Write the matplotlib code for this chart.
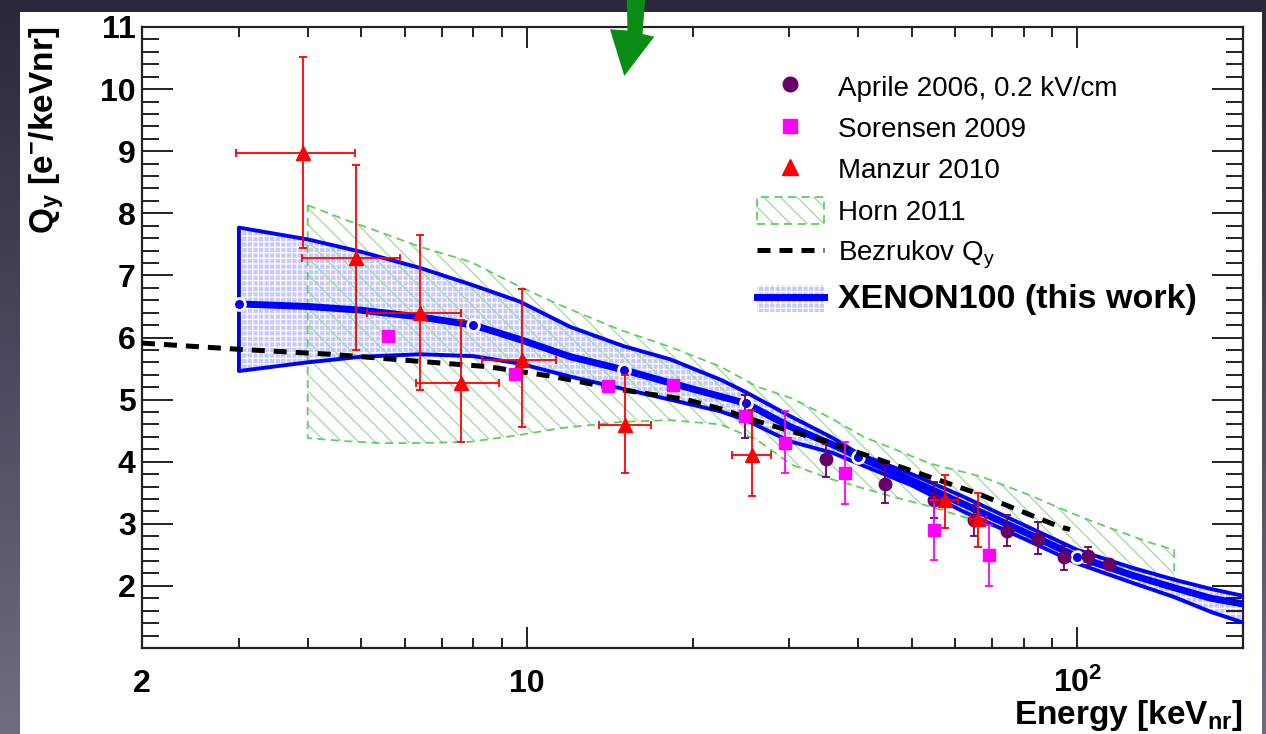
import numpy as np
import matplotlib
matplotlib.use("Agg")
import matplotlib.pyplot as plt
from matplotlib.lines import Line2D
from matplotlib.patches import Patch, Polygon, Rectangle
from matplotlib.colors import LinearSegmentedColormap
from matplotlib.ticker import NullFormatter

plt.rcParams['font.family'] = ['Liberation Sans', 'DejaVu Sans']
plt.rcParams['mathtext.default'] = 'regular'
plt.rcParams['hatch.linewidth'] = 0.9

# =========================
# data
# =========================
# XENON100 band (this work)
xenon_e = [3, 4, 5, 6.4, 8, 9.7, 12, 15, 18.2, 22.5, 25, 30, 36, 40, 50, 62, 80, 100, 125, 150, 175, 200]
xenon_hi = [7.77, 7.58, 7.38, 7.12, 6.84, 6.58, 6.17, 5.86, 5.65, 5.32, 5.12, 4.74, 4.38, 4.13, 3.80, 3.44, 2.98, 2.58, 2.30, 2.10, 1.95, 1.84]
xenon_med = [6.54, 6.50, 6.44, 6.33, 6.20, 5.97, 5.69, 5.48, 5.27, 5.05, 4.94, 4.57, 4.27, 4.08, 3.70, 3.32, 2.87, 2.47, 2.18, 1.97, 1.80, 1.71]
xenon_lo = [5.46, 5.60, 5.69, 5.73, 5.70, 5.58, 5.37, 5.17, 5.00, 4.81, 4.67, 4.33, 4.14, 3.97, 3.62, 3.20, 2.76, 2.36, 2.06, 1.82, 1.58, 1.41]
xenon_pts_e = [3, 8, 15, 25, 40, 100]
xenon_pts_q = [6.54, 6.20, 5.48, 4.94, 4.08, 2.47]

# Horn 2011 band
horn_e = [4, 4.7, 5.4, 6.4, 7.9, 9.7, 11.5, 14.8, 18.2, 22.5, 26.2, 30.3, 35.7, 40.9, 46.9, 54, 67, 82, 96, 107, 120, 134, 150]
horn_hi = [8.13, 7.89, 7.70, 7.46, 7.22, 6.82, 6.52, 6.12, 5.85, 5.53, 5.21, 5.02, 4.70, 4.40, 4.19, 3.97, 3.76, 3.46, 3.20, 3.03, 2.87, 2.71, 2.58]
horn_lo = [4.38, 4.33, 4.30, 4.30, 4.32, 4.43, 4.54, 4.64, 4.67, 4.60, 4.35, 3.95, 3.72, 3.57, 3.42, 3.28, 3.02, 2.75, 2.55, 2.42, 2.30, 2.20, 2.12]

# Bezrukov Qy
bez_e = [2.0, 3.0, 4.4, 6.3, 8.5, 11.2, 14.8, 19.5, 22.5, 26.5, 35.1, 42.1, 54.5, 65.8, 76.7, 93.0, 97.0]
bez_q = [5.91, 5.81, 5.73, 5.62, 5.53, 5.37, 5.16, 5.00, 4.85, 4.64, 4.32, 4.08, 3.74, 3.49, 3.25, 2.95, 2.91]

# Aprile 2006, 0.2 kV/cm
aprile_e = [24.9, 35.0, 44.8, 54.9, 65.0, 74.6, 84.7, 94.6, 104.5, 114.0]
aprile_q = [4.73, 4.04, 3.64, 3.38, 3.06, 2.89, 2.76, 2.46, 2.48, 2.35]
aprile_lo = [4.38, 3.76, 3.34, 3.09, 2.80, 2.64, 2.51, 2.25, 2.34, 2.31]
aprile_hi = [5.07, 4.29, 3.95, 3.68, 3.30, 3.14, 3.03, 2.64, 2.62, 2.39]

# Sorensen 2009 (nan = no bar)
sor_e = [5.6, 9.52, 14.07, 18.4, 24.9, 29.4, 37.8, 54.9, 69.1]
sor_q = [6.02, 5.42, 5.22, 5.24, 4.73, 4.30, 3.82, 2.90, 2.50]
sor_lo = [np.nan, np.nan, np.nan, np.nan, np.nan, 3.81, 3.32, 2.41, 2.00]
sor_hi = [np.nan, np.nan, np.nan, np.nan, np.nan, 4.81, 4.32, 3.38, 2.98]

# Manzur 2010
man_e = [3.93, 4.89, 6.4, 7.6, 9.8, 15.1, 25.6, 57.6, 66.1]
man_q = [8.97, 7.28, 6.39, 5.26, 5.64, 4.59, 4.11, 3.38, 3.08]
man_lo = [7.44, 5.80, 5.16, 4.32, 4.56, 3.81, 3.44, 2.94, 2.62]
man_hi = [10.52, 8.78, 7.65, 6.28, 6.78, 5.40, 4.83, 3.79, 3.49]
man_elo = [2.96, 3.91, 5.13, 6.29, 8.28, 13.5, 23.6, 55.0, 63.8]
man_ehi = [4.88, 5.88, 7.6, 8.9, 11.3, 16.8, 27.8, 60.6, 68.4]

x_ticks = [2, 10, 100]
x_ticklabels = ['2', '10', '$10^{2}$']

# =========================
# figure / slide background
# =========================
W, H = 1266, 734
fig = plt.figure(figsize=(W / 100, H / 100), dpi=100)

bg = fig.add_axes([0, 0, 1, 1], zorder=-10)
slide = LinearSegmentedColormap.from_list('slide', ['#29293a', '#4a4a5e', '#6e6e80'])
bg.imshow(np.linspace(0, 1, 256)[:, None], aspect='auto', cmap=slide,
          extent=[0, 1, 0, 1], origin='upper')
bg.axis('off')

fig.add_artist(Rectangle((20 / W, 0), (1262 - 20) / W, 1 - 12 / H,
                         transform=fig.transFigure, facecolor='white',
                         edgecolor='none', zorder=-5))

ax = fig.add_axes([142 / W, 1 - 648 / H, (1243 - 142) / W, (648 - 27) / H])
ax.set_facecolor('white')

BLUE = '#0000ff'
PURPLE = '#660066'
MAGENTA = '#ff00ff'
RED = '#ff0000'
BEZ_DASH = (2.6, 1.8)

# XENON100 band
ax.fill_between(xenon_e, xenon_lo, xenon_hi, facecolor='#c8c8fc', edgecolor='white',
                hatch='+++', lw=0, zorder=1)

# Horn 2011 hatched band with dashed outline
ax.fill_between(horn_e, horn_lo, horn_hi, facecolor='none', edgecolor='#9ddc9d',
                hatch='\\\\', lw=0, zorder=1.5)
ax.plot(np.r_[horn_e, horn_e[::-1], horn_e[:1]],
        np.r_[horn_hi, horn_lo[::-1], horn_hi[:1]],
        color='#5fcf5f', lw=1.3, dashes=(4.5, 3), zorder=1.6)

# XENON100 outline + median
ax.plot(np.r_[xenon_e[::-1], xenon_e], np.r_[xenon_hi[::-1], xenon_lo],
        color=BLUE, lw=2.8, zorder=3)
ax.plot(xenon_e, xenon_med, color=BLUE, lw=5, solid_capstyle='butt', zorder=3.2)
ax.plot(xenon_pts_e, xenon_pts_q, 'o', ms=8.5, mfc=BLUE, mec='white', mew=2, zorder=3.4)

# Bezrukov
ax.plot(bez_e, bez_q, color='black', lw=3.6, dashes=BEZ_DASH, zorder=4)

# Aprile 2006
ap_q = np.array(aprile_q)
ax.errorbar(aprile_e, ap_q, yerr=[ap_q - np.array(aprile_lo), np.array(aprile_hi) - ap_q],
            fmt='none', ecolor=PURPLE, elinewidth=1.3, capsize=3, capthick=1.3, zorder=5)
ax.plot(aprile_e, ap_q, 'o', color=PURPLE, ms=9, zorder=5.5)

# Sorensen 2009
s_e = np.array(sor_e)
s_q = np.array(sor_q)
s_lo = np.array(sor_lo)
s_hi = np.array(sor_hi)
has_err = ~np.isnan(s_lo)
ax.errorbar(s_e[has_err], s_q[has_err],
            yerr=[s_q[has_err] - s_lo[has_err], s_hi[has_err] - s_q[has_err]],
            fmt='none', ecolor=MAGENTA, elinewidth=1.3, capsize=3, capthick=1.3, zorder=6)
ax.plot(s_e, s_q, 's', color=MAGENTA, ms=8.5, zorder=6.5)

# Manzur 2010
m_e = np.array(man_e)
m_q = np.array(man_q)
ax.errorbar(m_e, m_q,
            xerr=[m_e - np.array(man_elo), np.array(man_ehi) - m_e],
            yerr=[m_q - np.array(man_lo), np.array(man_hi) - m_q],
            fmt='none', ecolor=RED, elinewidth=1.3, capsize=3, capthick=1.3, zorder=7)
ax.plot(m_e, m_q, '^', color=RED, ms=10, zorder=7.5)

# =========================
# axes
# =========================
ax.set_xscale('log')
ax.set_xlim(2, 200)
ax.set_ylim(1, 11)

ax.set_xticks(x_ticks)
ax.set_xticks([3, 4, 5, 6, 7, 8, 9, 20, 30, 40, 50, 60, 70, 80, 90], minor=True)
ax.xaxis.set_minor_formatter(NullFormatter())
ax.set_yticks(range(2, 12))
ax.set_yticks([i + 0.2 * k for i in range(1, 11) for k in (1, 2, 3, 4)], minor=True)

for s in ax.spines.values():
    s.set_linewidth(1.6)
    s.set_color('#222222')

ax.tick_params(which='both', direction='in', top=True, right=True,
               color='#222222', width=1.4)
ax.tick_params(axis='y', which='major', length=22, pad=4.5, labelsize=23)
ax.tick_params(axis='y', which='minor', length=12.5)
ax.tick_params(axis='x', which='major', length=15, pad=31.5, labelsize=23)
ax.tick_params(axis='x', which='minor', length=7.5)

ax.set_xticklabels(x_ticklabels, fontweight='bold')
ax.set_yticklabels([str(v) for v in range(2, 12)], fontweight='bold')
for lbl in ax.get_xticklabels():
    lbl.set_va('baseline')

ax.text(-0.0863, 1.0, 'Q$_{y}$ [e$^{-}$/keVnr]', rotation=90, ha='center', va='top',
        fontsize=24, fontweight='bold', transform=ax.transAxes)
ax.text(1.0, -(724 - 648) / 621, 'Energy [keV$_{nr}$]', ha='right', va='baseline',
        fontsize=24, fontweight='bold', transform=ax.transAxes, clip_on=False)

# =========================
# legend
# =========================
handles = [
    Line2D([], [], ls='none', marker='o', color=PURPLE, ms=10.5),
    Line2D([], [], ls='none', marker='s', color=MAGENTA, ms=10.5),
    Line2D([], [], ls='none', marker='^', color=RED, ms=11.5),
    (Patch(facecolor='none', edgecolor='#9ddc9d', hatch='\\\\', lw=0),
     Patch(facecolor='none', edgecolor='#5fcf5f', ls=(0, (4.5, 3)), lw=1.3)),
    Line2D([], [], color='black', lw=3.6, dashes=BEZ_DASH),
    (Patch(facecolor='#c8c8fc', edgecolor='white', hatch='+++', lw=0),
     Line2D([], [], color=BLUE, lw=5)),
]
labels = ['Aprile 2006, 0.2 kV/cm', 'Sorensen 2009', 'Manzur 2010', 'Horn 2011',
          'Bezrukov Q$_{y}$', 'XENON100 (this work)']
leg = ax.legend(handles, labels, loc='upper left',
                bbox_to_anchor=(757 / W, 1 - 73 / H), bbox_transform=fig.transFigure,
                frameon=False, fontsize=20, borderpad=0, borderaxespad=0,
                handlelength=2.4, handleheight=1.1, handletextpad=0.5, labelspacing=0.45)
leg.get_texts()[-1].set_fontsize(24.5)
leg.get_texts()[-1].set_fontweight('bold')

# green pointer arrow at the top of the slide
arrow_px = [(626.7, -5), (645.5, -5), (642.5, 34), (654.3, 36.7), (624.3, 76),
            (610, 29.3), (627.5, 30.5)]
fig.add_artist(Polygon([(x / W, 1 - y / H) for x, y in arrow_px], closed=True,
                       transform=fig.transFigure, facecolor='#0b8c14',
                       edgecolor='none', zorder=20))

fig.savefig('out.png', dpi=100)
